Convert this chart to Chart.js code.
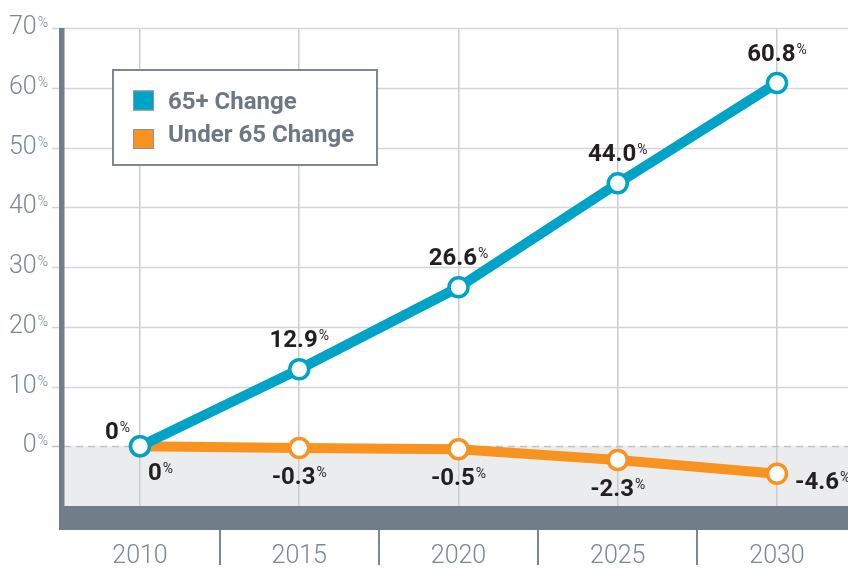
<!DOCTYPE html>
<html>
<head>
<meta charset="utf-8">
<script src="https://cdn.jsdelivr.net/npm/chart.js@4.4.1/dist/chart.umd.min.js"></script>
<style>
  html, body { margin: 0; padding: 0; background: #fff; }
  canvas { display: block; }
</style>
</head>
<body>
<canvas id="growthChart" width="848" height="569"></canvas>
<script>
// chart values
const years = [2010, 2015, 2020, 2025, 2030];
const seniorChange = [0, 12.9, 26.6, 44.0, 60.8];
const underChange = [0, -0.3, -0.5, -2.3, -4.6];
const yTicks = [0, 10, 20, 30, 40, 50, 60, 70];
const seriesNames = ['65+ Change', 'Under 65 Change'];
const seriesColors = ['#00a3c8', '#f7931e'];

const FONT = 'Roboto, "Noto Sans", sans-serif';
const AXIS_TEXT = '#7b8792';
const DARK_BAR = '#717d88';
const GRID = '#d3d6d9';

function fmt(v) {
    return v === 0 ? '0' : v.toFixed(1);
}

// number with a small raised % sign
function drawPct(ctx, text, x, base, align, bigFont, smallFont, color) {
    ctx.font = bigFont;
    const w1 = ctx.measureText(text).width;
    ctx.font = smallFont;
    const w2 = ctx.measureText('%').width;
    const total = w1 + 1 + w2;
    let left = x;
    if (align === 'center') left = x - total / 2;
    if (align === 'right') left = x - total;
    ctx.fillStyle = color;
    ctx.textAlign = 'left';
    ctx.textBaseline = 'alphabetic';
    ctx.font = bigFont;
    ctx.fillText(text, left, base);
    ctx.font = smallFont;
    ctx.fillText('%', left + w1 + 1, base - 7);
}

const backdrop = {
    id: 'backdrop',
    beforeDraw(chart) {
        const { ctx, chartArea: a, scales: { y } } = chart;
        ctx.save();
        ctx.fillStyle = '#ebecee';
        ctx.fillRect(a.left + 5.5, y.getPixelForValue(0), a.right - a.left, a.bottom - y.getPixelForValue(0));
        ctx.restore();
    },
    beforeDatasetsDraw(chart) {
        const { ctx, chartArea: a, scales: { x, y } } = chart;
        ctx.save();
        // horizontal grid
        yTicks.forEach(function (t) {
            const py = Math.round(y.getPixelForValue(t)) + 0.5;
            ctx.beginPath();
            ctx.lineWidth = 1.5;
            ctx.strokeStyle = t === 0 ? '#bfc4c9' : GRID;
            ctx.setLineDash(t === 0 ? [7, 5] : []);
            ctx.moveTo(a.left - 7, py);
            ctx.lineTo(a.right, py);
            ctx.stroke();
        });
        ctx.setLineDash([]);

        // dark frame: left bar and bottom bar
        ctx.fillStyle = DARK_BAR;
        ctx.fillRect(a.left, a.top, 5.5, a.bottom + 24 - a.top);
        ctx.fillRect(a.left, a.bottom, a.right - a.left, 24);

        // separators between year labels
        ctx.strokeStyle = '#7c8791';
        ctx.lineWidth = 2;
        for (let i = 0; i < years.length - 1; i++) {
            const px = Math.round(x.getPixelForValue((years[i] + years[i + 1]) / 2));
            ctx.beginPath();
            ctx.moveTo(px, a.bottom + 24);
            ctx.lineTo(px, a.bottom + 59);
            ctx.stroke();
        }

        // y tick labels
        yTicks.forEach(function (t) {
            const py = y.getPixelForValue(t);
            drawPct(ctx, String(t), 48, py + 6, 'right', '300 25px ' + FONT, '300 14px ' + FONT, AXIS_TEXT);
        });
        ctx.restore();
    },
    afterDatasetsDraw(chart) {
        const { ctx } = chart;
        ctx.save();
        const big = 'bold 24px ' + FONT;
        const small = '14px ' + FONT;
        chart.data.datasets.forEach(function (ds, di) {
            const meta = chart.getDatasetMeta(di);
            meta.data.forEach(function (pt, i) {
                const txt = fmt(ds.data[i].y);
                const last = i === meta.data.length - 1;
                if (di === 0) {
                    if (i === 0) drawPct(ctx, txt, pt.x - 10, pt.y - 7, 'right', big, small, '#231f20');
                    else drawPct(ctx, txt, pt.x, pt.y - 22, 'center', big, small, '#231f20');
                } else {
                    if (i === 0) drawPct(ctx, txt, pt.x + 8, pt.y + 34, 'left', big, small, '#231f20');
                    else if (last) drawPct(ctx, txt, pt.x + 18, pt.y + 15, 'left', big, small, '#231f20');
                    else drawPct(ctx, txt, pt.x, pt.y + 36, 'center', big, small, '#231f20');
                }
            });
        });

        // legend box
        ctx.fillStyle = '#ffffff';
        ctx.fillRect(113, 70, 264, 95);
        ctx.strokeStyle = '#7e8891';
        ctx.lineWidth = 2;
        ctx.strokeRect(113, 70, 264, 95);
        ctx.font = 'bold 24px ' + FONT;
        ctx.textAlign = 'left';
        ctx.textBaseline = 'alphabetic';
        chart.data.datasets.forEach(function (ds, di) {
            const top = 90.5 + di * 38.5;
            ctx.fillStyle = ds.borderColor;
            ctx.fillRect(133, top, 21, 20);
            ctx.lineWidth = 1;
            ctx.strokeStyle = '#8a949c';
            ctx.strokeRect(133.5, top + 0.5, 20, 19);
            ctx.fillStyle = '#6d7883';
            ctx.fillText(ds.label, 168, 109 + di * 33);
        });
        ctx.restore();
    }
};

function toPoints(values) {
    return years.map(function (yr, i) { return { x: yr, y: values[i] }; });
}

const ctx = document.getElementById('growthChart');
new Chart(ctx, {
    type: 'line',
    data: {
        datasets: [seniorChange, underChange].map(function (vals, i) {
            return {
                label: seriesNames[i],
                data: toPoints(vals),
                borderColor: seriesColors[i],
                backgroundColor: '#ffffff',
                borderWidth: 10,
                pointRadius: 9.5,
                pointBorderWidth: 3.5,
                pointBackgroundColor: '#ffffff',
                pointBorderColor: seriesColors[i],
                tension: 0,
                clip: false
            };
        })
    },
    options: {
        responsive: false,
        animation: false,
        devicePixelRatio: 1,
        layout: {
            autoPadding: false,
            padding: { left: 59, top: 28, right: 0, bottom: 1 }
        },
        plugins: {
            legend: { display: false },
            tooltip: { enabled: false }
        },
        scales: {
            x: {
                type: 'linear',
                min: 2007.457,
                max: 2032.229,
                afterBuildTicks: function (axis) {
                    axis.ticks = years.map(function (v) { return { value: v }; });
                },
                afterFit: function (axis) {
                    axis.height = 62;
                    axis.paddingLeft = 0;
                    axis.paddingRight = 0;
                },
                ticks: {
                    padding: 38,
                    color: AXIS_TEXT,
                    font: { family: FONT, size: 25, weight: '300', lineHeight: 1 },
                    callback: function (v) { return String(v); }
                },
                grid: { color: '#c9cdd1', lineWidth: 1.5, drawTicks: false },
                border: { display: false }
            },
            y: {
                display: false,
                min: -10,
                max: 70
            }
        }
    },
    plugins: [backdrop]
});
</script>
</body>
</html>
